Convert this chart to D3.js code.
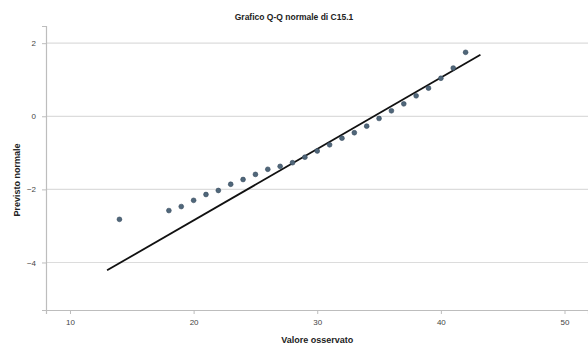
<!DOCTYPE html>
<html><head><meta charset="utf-8">
<script src="https://cdn.jsdelivr.net/npm/d3@7"></script>
<style>body{margin:0;background:#fff}svg{display:block}text{font-family:"Liberation Sans",Arial,sans-serif}</style>
</head><body>
<svg id="c" width="588" height="349"></svg>
<script>
const observed = [14,18,19,20,21,22,23,24,25,26,27,28,29,30,31,32,33,34,35,36,37,38,39,40,41,42];
const expected = [-2.82,-2.58,-2.47,-2.30,-2.14,-2.03,-1.86,-1.73,-1.59,-1.45,-1.37,-1.27,-1.12,-0.95,-0.78,-0.60,-0.45,-0.27,-0.06,0.15,0.34,0.56,0.77,1.04,1.32,1.75];
const lineX = [13, 43.2];
const fitMean = 34.58, fitSd = 5.12;
const xTicks = [10,20,30,40,50];
const yTicks = [-4,-2,0,2];
const title = "Grafico Q-Q normale di C15.1";
const xTitle = "Valore osservato";
const yTitle = "Previsto normale";

const svg = d3.select("#c");
const L = 46, R = 588, T = 26, B = 310;
const x = d3.scaleLinear().domain([8.06, 51.9]).range([L, R]);
const y = d3.scaleLinear().domain([-5.3, 2.47]).range([B, T]);

// gridlines
svg.append("g").selectAll("line").data(yTicks).join("line")
  .attr("x1", L).attr("x2", R).attr("y1", d=>y(d)).attr("y2", d=>y(d))
  .attr("stroke", "#dcdcdc").attr("stroke-width", 1.2);

const gx = svg.append("g").attr("transform", `translate(0,${B})`)
  .call(d3.axisBottom(x).tickValues(xTicks).tickSize(4).tickPadding(5).tickFormat(d3.format("d")));
const gy = svg.append("g").attr("transform", `translate(${L},0)`)
  .call(d3.axisLeft(y).tickValues(yTicks).tickSize(4).tickPadding(6).tickFormat(d3.format("d")));
[gx, gy].forEach(g => {
  g.select(".domain").attr("stroke", "#bdbdbd").attr("stroke-width", 1.2);
  g.selectAll(".tick line").attr("stroke", "#bdbdbd");
  g.selectAll(".tick text").attr("fill", "#444").style("font-size", "8px");
});

// reference line
const lz = v => (v - fitMean) / fitSd;
svg.append("line")
  .attr("x1", x(lineX[0])).attr("y1", y(lz(lineX[0])))
  .attr("x2", x(lineX[1])).attr("y2", y(lz(lineX[1])))
  .attr("stroke", "#111").attr("stroke-width", 1.8);

// points
svg.append("g").selectAll("circle").data(observed).join("circle")
  .attr("cx", (d)=>x(d)).attr("cy", (d,i)=>y(expected[i])).attr("r", 2.4)
  .attr("fill", "#50677a").attr("stroke", "#33475a").attr("stroke-width", 0.6);

svg.append("text").attr("x", 294).attr("y", 20).attr("text-anchor", "middle")
  .style("font-size", "8.5px").style("font-weight", "bold").attr("fill", "#222").text(title);
svg.append("text").attr("x", x(30)).attr("y", 343).attr("text-anchor", "middle")
  .style("font-size", "9px").style("font-weight", "bold").attr("fill", "#222").text(xTitle);
svg.append("text").attr("transform", "translate(20,180) rotate(-90)").attr("text-anchor", "middle")
  .style("font-size", "9px").style("font-weight", "bold").attr("fill", "#222").text(yTitle);
</script>
</body></html>
